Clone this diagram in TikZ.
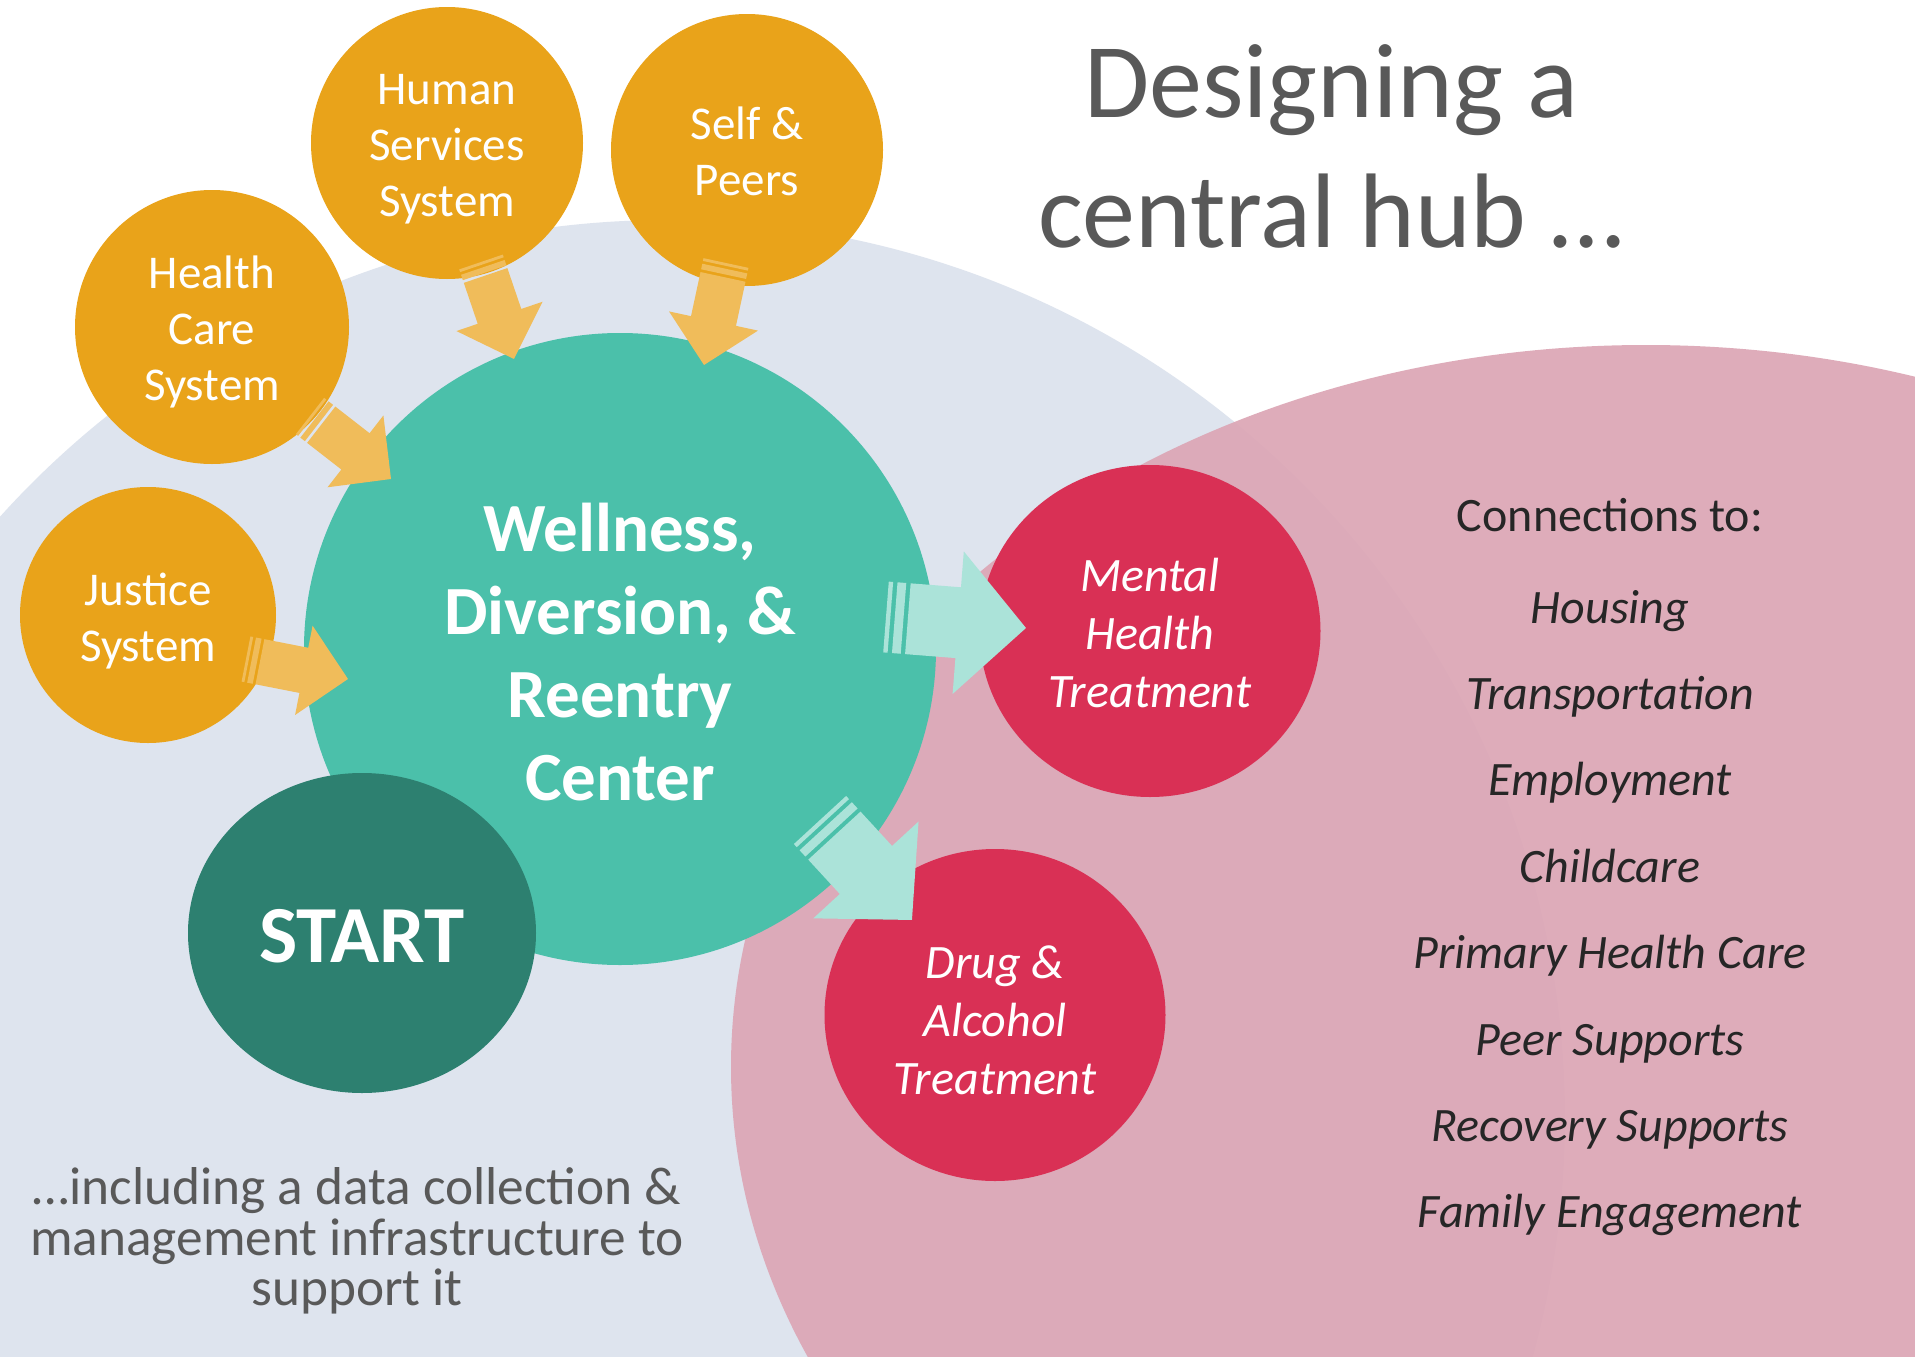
\documentclass[tikz,border=0pt]{standalone}
\usepackage{fontspec}
\setmainfont{Carlito}
\usetikzlibrary{shapes.geometric}
\definecolor{bgblue}{HTML}{DEE4EE}
\definecolor{pinkC}{RGB}{220,166,181}
\definecolor{hubteal}{HTML}{4BC0AA}
\definecolor{startteal}{HTML}{2D8070}
\definecolor{orangeC}{HTML}{E9A31A}
\definecolor{arroworange}{HTML}{F0BC5A}
\definecolor{crimson}{HTML}{D93055}
\definecolor{aqua}{HTML}{ABE3D9}
\definecolor{greytext}{HTML}{595959}
\definecolor{darktext}{HTML}{262626}

% striped block arrow: #1 tail coord, #2 tip coord, #3 shaft width, #4 head width, #5 head length, #6 colour
\newcommand{\stripearrow}[6]{%
  \path (#1); \pgfgetlastxy{\sax}{\say}%
  \path (#2); \pgfgetlastxy{\sbx}{\sby}%
  \pgfmathsetmacro{\sang}{atan2(\sby-\say,\sbx-\sax)}%
  \pgfmathsetmacro{\slen}{veclen(\sbx-\sax,\sby-\say)}%
  \pgfmathsetmacro{\sss}{min(\slen,#4)}%
  \pgfmathsetmacro{\sa}{\sss/32}%
  \pgfmathsetmacro{\sb}{\sss/16}%
  \pgfmathsetmacro{\sc}{\sss/8}%
  \pgfmathsetmacro{\sd}{5*\sss/32}%
  \pgfmathsetmacro{\se}{\slen-#5}%
  \pgfmathsetmacro{\sw}{#3/2}%
  \pgfmathsetmacro{\sh}{#4/2}%
  \begin{scope}[shift={(\sax,\say)}, rotate=\sang]
    \fill[#6] (0pt,-\sw pt) rectangle (\sa pt,\sw pt);
    \fill[#6] (\sb pt,-\sw pt) rectangle (\sc pt,\sw pt);
    \fill[#6] (\sd pt,-\sw pt) -- (\se pt,-\sw pt) -- (\se pt,-\sh pt) -- (\slen pt,0pt)
      -- (\se pt,\sh pt) -- (\se pt,\sw pt) -- (\sd pt,\sw pt) -- cycle;
  \end{scope}}

\tikzset{
  feeder/.style={circle, fill=orangeC, inner sep=0pt, minimum size=#1},
  feedtext/.style={text=white, align=center, inner sep=0pt, font=\fontsize{47}{56}\selectfont},
  hubnode/.style={circle, fill=hubteal, inner sep=0pt, minimum size=632pt},
  hubtext/.style={text=white, align=center, inner sep=0pt, font=\fontsize{69}{83}\selectfont\bfseries},
  startnode/.style={ellipse, fill=startteal, inner sep=0pt, minimum width=348pt, minimum height=320pt},
  starttext/.style={text=white, inner sep=0pt, font=\fontsize{81}{90}\selectfont\bfseries},
  treatnode/.style={ellipse, fill=crimson, inner sep=0pt, minimum width=341pt, minimum height=332pt},
  treattext/.style={text=white, align=center, inner sep=0pt, font=\fontsize{48}{58}\selectfont\itshape},
  titletext/.style={text=greytext, align=center, inner sep=0pt, font=\fontsize{106}{130}\selectfont},
  conntext/.style={text=darktext, inner sep=0pt, anchor=base, font=\fontsize{48}{58}\selectfont},
  listtext/.style={text=darktext, inner sep=0pt, anchor=base, font=\fontsize{48}{58}\selectfont\itshape},
  bottomtext/.style={text=greytext, align=center, inner sep=0pt, font=\fontsize{53.3}{50.5}\selectfont}
}

\begin{document}
\begin{tikzpicture}[x=1pt,y=-1pt]
\useasboundingbox (0,0) rectangle (1915,1357);
\fill[white] (0,0) rectangle (1915,1357);
\clip (0,0) rectangle (1915,1357);

% background shapes
\fill[bgblue] (667,1118) circle [radius=898pt];
\fill[pinkC, fill opacity=0.92] (1646,1067) ellipse [x radius=915pt, y radius=722pt];

% main shapes
\node[hubnode] (hub) at (620,649) {};
\node[startnode] (start) at (362,933) {};
\node[treatnode] (mh) at (1150,631) {};
\node[treatnode] (da) at (995,1015) {};
\node[feeder=272pt] (hs) at (447,143) {};
\node[feeder=272pt] (sp) at (747,150) {};
\node[feeder=274pt] (hc) at (212,327) {};
\node[feeder=256pt] (js) at (148,615) {};

% arrow end points
\coordinate (hs-tail) at (481,262);  \coordinate (hs-tip) at (514,359);
\coordinate (sp-tail) at (726,263);  \coordinate (sp-tip) at (704,365);
\coordinate (hc-tail) at (310,416);  \coordinate (hc-tip) at (391,479);
\coordinate (js-tail) at (246,659);  \coordinate (js-tip) at (348,679);
\coordinate (mh-tail) at (886,617);  \coordinate (mh-tip) at (1026,628);
\coordinate (da-tail) at (820,820);  \coordinate (da-tip) at (912,920);

\stripearrow{hs-tail}{hs-tip}{46}{91}{45}{arroworange}
\stripearrow{sp-tail}{sp-tip}{46}{91}{45}{arroworange}
\stripearrow{hc-tail}{hc-tip}{46}{91}{45}{arroworange}
\stripearrow{js-tail}{js-tip}{46}{91}{45}{arroworange}
\stripearrow{mh-tail}{mh-tip}{71}{143}{68}{aqua}
\stripearrow{da-tail}{da-tip}{71}{143}{68}{aqua}

% texts in shapes
\node[hubtext, yshift=-3pt] (hub-text) at (hub) {Wellness,\\Diversion, \&\\Reentry\\Center};
\node[starttext, yshift=-3pt] (start-text) at (start) {START};
\node[treattext, yshift=-2pt] (mh-text) at (mh) {Mental\\Health\\Treatment};
\node[treattext, yshift=-5pt] (da-text) at (da) {Drug \&\\Alcohol\\Treatment};
\node[feedtext, yshift=-6pt] (hs-text) at (hs) {Human\\Services\\System};
\node[feedtext, yshift=-1pt] (sp-text) at (sp) {Self \&\\Peers};
\node[feedtext, yshift=-5pt] (hc-text) at (hc) {Health\\Care\\System};
\node[feedtext, yshift=-6pt] (js-text) at (js) {Justice\\System};

% free texts
\node[titletext] (title) at (1331,146) {Designing a\\central hub …};
\node[conntext] (conn) at (1610,531) {Connections to:};
\foreach \t [count=\i from 0] in {Housing,Transportation,Employment,Childcare,Primary Health Care,Peer Supports,Recovery Supports,Family Engagement}
  \node[listtext] (item\i) at (1610,{623+86.4*\i}) {\t};
\node[bottomtext] (data) at (357,1241) {…including a data collection \&\\management infrastructure to\\support it};
\end{tikzpicture}
\end{document}
